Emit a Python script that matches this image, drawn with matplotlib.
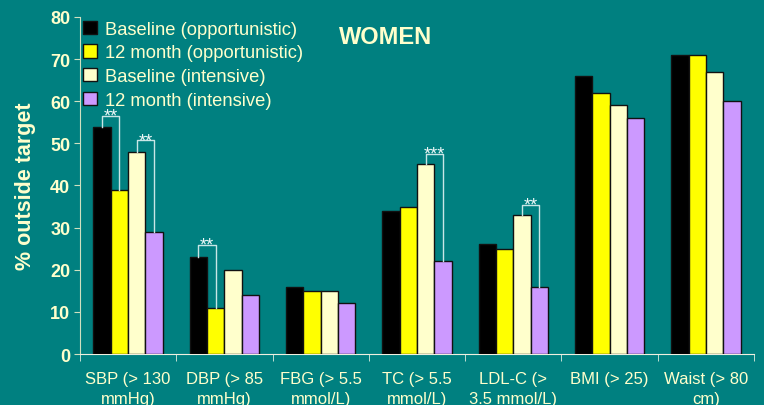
import numpy as np
import matplotlib.pyplot as plt

plt.rcParams['font.family'] = ['Liberation Sans', 'DejaVu Sans']

categories = ['SBP (> 130\nmmHg)', 'DBP (> 85\nmmHg)', 'FBG (> 5.5\nmmol/L)', 'TC (> 5.5\nmmol/L)',
              'LDL-C (>\n3.5 mmol/L)', 'BMI (> 25)', 'Waist (> 80\ncm)']
series_names = ['Baseline (opportunistic)', '12 month (opportunistic)',
                'Baseline (intensive)', '12 month (intensive)']
base_opp = [54, 23, 16, 34, 26, 66, 71]
m12_opp = [39, 11, 15, 35, 25, 62, 71]
base_int = [48, 20, 15, 45, 33, 59, 67]
m12_int = [29, 14, 12, 22, 16, 56, 60]
# (category, first series, second series, bracket top, stars)
sig = [(0, 0, 1, 56.6, '**'), (0, 2, 3, 50.7, '**'), (1, 0, 1, 25.9, '**'),
       (3, 2, 3, 47.5, '***'), (4, 2, 3, 35.4, '**')]

bg = '#008080'
txt = '#ffffcc'
colors = ['#000000', '#ffff00', '#ffffcc', '#cc99ff']

fig = plt.figure(figsize=(7.64, 4.06), dpi=100, facecolor=bg)
ax = fig.add_axes([0.1047, 0.1256, 0.8823, 0.8301])
ax.set_facecolor(bg)

x = np.arange(len(categories))
w = 0.18
data = [base_opp, m12_opp, base_int, m12_int]
for i, (vals, c, name) in enumerate(zip(data, colors, series_names)):
    ax.bar(x + (i - 1.5) * w, vals, w, color=c, edgecolor='#111111', linewidth=1, label=name, zorder=3)

for cat, a, b, top, stars in sig:
    xa = cat + (a - 1.5) * w
    xb = cat + (b - 1.5) * w
    ax.plot([xa, xa, xb, xb], [data[a][cat], top, top, data[b][cat]], color='#c8e6e6', lw=1, zorder=4)
    ax.text((xa + xb) / 2, top - 1.1, stars, color='#eef8f8', ha='center', va='baseline', fontsize=13, zorder=5)

ax.set_xlim(-0.5, len(categories) - 0.5)
ax.set_ylim(0, 80)
ax.set_yticks(range(0, 81, 10))
ax.tick_params(axis='y', colors=txt, labelsize=13, length=4, direction='out', pad=3)
for lab in ax.get_yticklabels():
    lab.set_fontweight('bold')
ax.set_xticks(x)
ax.set_xticklabels(categories, color=txt, fontsize=12, linespacing=1.45)
ax.tick_params(axis='x', length=0, pad=12)
ax.set_xticks(np.arange(-0.5, len(categories)), minor=True)
ax.tick_params(axis='x', which='minor', length=5, color='#e0eee0')
ax.tick_params(axis='y', color='#d0e0c0')

for s in ['top', 'right']:
    ax.spines[s].set_visible(False)
ax.spines['left'].set_color('#d0e0c0')
ax.spines['bottom'].set_color('#f0f0e0')

ax.set_ylabel('% outside target', color=txt, fontsize=15.5, fontweight='bold', labelpad=10)
fig.text(0.505, 0.908, 'WOMEN', color=txt, fontsize=17, fontweight='bold', ha='center', va='center')

leg = ax.legend(loc='upper left', bbox_to_anchor=(-0.012, 1.022), frameon=False, fontsize=13.2,
                handlelength=0.75, handleheight=0.75, handletextpad=0.45, labelspacing=0.36, borderpad=0.1)
for t in leg.get_texts():
    t.set_color(txt)

fig.savefig('out.png', dpi=100, facecolor=bg)
